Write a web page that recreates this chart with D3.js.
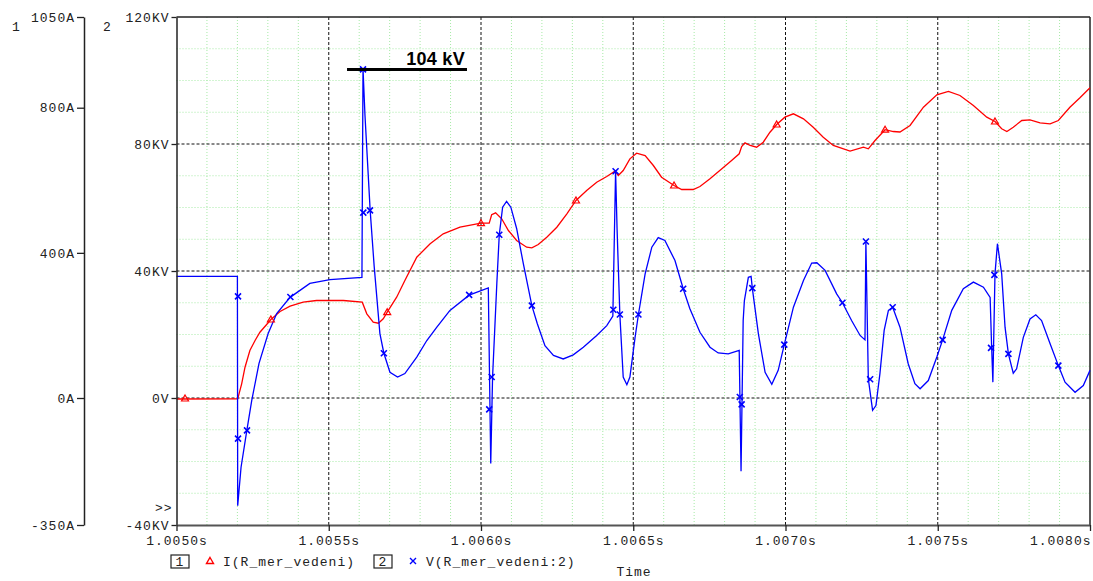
<!DOCTYPE html>
<html>
<head>
<meta charset="utf-8">
<script src="https://cdn.jsdelivr.net/npm/d3@7"></script>
<style>
    body { margin: 0; background: #fff; }
    text { font-family: "Liberation Mono", "DejaVu Sans Mono", monospace; font-size: 13px; letter-spacing: 1px; fill: #222; }
</style>
</head>
<body>
<svg id="chart" width="1093" height="581"></svg>
<script>
// time is in microseconds after 1.0050 s
var timeI = [0,201,214,225,241,258,274,296,310,340,373,416,460,548,610,625,646,663,679,692,723,750,789,833,876,931,1000,1027,1035,1048,1068,1090,1117,1150,1167,1188,1216,1249,1282,1312,1347,1380,1413,1440,1451,1467,1489,1511,1539,1566,1593,1634,1659,1697,1719,1752,1791,1823,1848,1856,1867,1884,1905,1927,1949,1971,1998,2026,2059,2091,2124,2157,2212,2256,2272,2294,2327,2354,2376,2409,2453,2497,2535,2573,2617,2661,2688,2710,2727,2748,2776,2803,2836,2869,2896,2934,2967,3000];
var currentA = [-2.8,-2.2,39.1,84.9,130.9,158.5,181.3,202.6,216.3,238.4,253.0,264.0,268.7,268.7,264.0,232.0,208.9,206.1,218.3,236.5,277.8,323.8,388.0,425.0,452.5,470.7,481.7,481.7,504.9,510.4,493.9,461.6,434.1,415.6,413.9,423.0,443.1,470.7,507.6,544.3,571.8,594.7,610.4,625.0,613.2,627.0,659.2,674.6,668.3,640.7,608.5,585.6,574.6,574.6,582.9,604.1,631.7,654.5,673.0,693.1,703.3,695.9,691.2,705.0,732.5,753.7,773.9,783.2,769.4,746.3,718.7,695.9,680.2,691.2,686.8,709.6,739.4,734.4,733.1,751.0,801.4,835.6,844.7,833.7,806.1,773.9,762.0,741.9,734.4,746.3,764.8,766.7,758.4,755.7,764.8,801.4,827.3,854.9];

var timeV = [0,200,201,212,231,247,271,301,329,373,438,504,609,612.5,619,636,649,668,681,701,726,750,789,822,855,898,961,1024,1032,1038,1052,1060,1071,1084,1098,1117,1139,1167,1185,1210,1238,1270,1303,1336,1380,1413,1433,1442,1447,1456,1467,1479,1489,1506,1517,1539,1561,1582,1604,1637,1664,1686,1719,1752,1779,1812,1848,1854,1861,1865,1878,1887,1891,1911,1933,1955,1976,1996,2026,2059,2086,2103,2130,2168,2187,2217,2245,2261,2264,2272,2286,2297,2310,2324,2338,2352,2376,2403,2425,2442,2469,2497,2516,2546,2584,2617,2650,2672,2677,2681,2688,2696,2710,2721,2732,2748,2759,2781,2803,2822,2841,2869,2896,2918,2951,2978,3000];
var voltageKV = [38.3,38.3,-33.9,-21.8,-10.2,-0.8,10.9,20.3,26.6,31.7,36.1,37.3,38.0,103.8,89.0,59.1,41.7,20.3,14.1,8.1,6.6,7.7,12.9,18.1,22.3,27.6,32.4,34.7,-20.6,6.6,36.1,51.4,60.1,61.9,60.1,53.4,42.3,29.1,23.4,16.5,13.4,12.3,13.6,16.0,19.7,22.8,25.8,71.4,52.8,26.3,6.6,4.2,6.6,19.1,26.3,39.1,47.5,50.5,49.6,43.3,34.4,28.1,20.7,16.0,14.2,13.9,15.0,-23.1,24.4,30.7,38.0,38.3,34.6,20.2,8.1,4.3,8.7,16.8,28.6,37.0,42.5,42.6,40.2,32.8,30.0,24.4,19.7,18.3,49.3,6.0,-3.9,-2.4,7.6,21.3,27.6,28.6,22.3,10.8,4.5,2.9,5.5,12.9,18.3,27.6,34.4,36.5,34.9,31.7,16.0,5.0,39.1,48.6,39.1,22.3,13.9,7.8,9.2,19.1,24.9,26.2,24.4,17.1,10.2,5.0,1.8,3.9,8.7];

// marker symbols (PSpice puts them on the traces)
var markTimeI = [28,310,692,1000,1312,1634,1971,2327,2688];
var markValI = [-1.4,216.3,236.5,481.7,544.3,585.6,753.7,739.4,762.0];
var markTimeV = [202,202,231.5,374,612.5,613.5,635.5,681,961,1027,1035,1060,1167,1434.5,1442,1456,1517,1664,1850,1856,1891,1996,2187,2264,2278,2352,2516,2675,2686,2732,2896];
var markValV = [32.0,-12.8,-10.2,31.8,103.5,58.4,59.1,14.1,32.5,-3.6,6.6,51.4,29.1,27.8,71.4,26.3,26.3,34.4,0.3,-2.0,34.6,16.8,30.0,49.3,5.9,28.6,18.3,15.8,38.8,13.9,10.2];

var ticksTime = [0,500,1000,1500,2000,2500,3000];
var ticksA = [-350,0,400,800,1050];
var ticksAText = ["-350A","0A","400A","800A","1050A"];
var ticksV = [-40,0,40,80,120];
var ticksVText = ["-40KV","0V","40KV","80KV","120KV"];

var peakLabel = "104 kV";
var peakValue = 103.5;
var peakBarFrom = 560, peakBarTo = 954;

var RED = "#ff0000", BLUE = "#0000ff";

var svg = d3.select("#chart");
var pLeft = 176.5, pRight = 1090, pTop = 17, pBottom = 525;

var x = d3.scaleLinear().domain([0, 3000]).range([pLeft, pRight]);
var yI = d3.scaleLinear().domain([-350, 1050]).range([pBottom, pTop]);
var yV = d3.scaleLinear().domain([-40, 120]).range([pBottom, pTop]);

//网格 minor
var grid = svg.append("g").attr("id", "grid");
grid.selectAll("line.mx")
    .data(d3.range(100, 3000, 100).filter(function (d) { return d % 500 !== 0; }))
    .enter().append("line")
    .attr("x1", function (d) { return x(d); }).attr("x2", function (d) { return x(d); })
    .attr("y1", pTop).attr("y2", pBottom)
    .attr("stroke", "#a6eaa6").attr("stroke-dasharray", "1,2");
grid.selectAll("line.my")
    .data(d3.range(-30, 120, 10).filter(function (d) { return d % 40 !== 0; }))
    .enter().append("line")
    .attr("y1", function (d) { return yV(d); }).attr("y2", function (d) { return yV(d); })
    .attr("x1", pLeft).attr("x2", pRight)
    .attr("stroke", "#a6eaa6").attr("stroke-dasharray", "1,2");
// major
grid.selectAll("line.Mx")
    .data([500, 1000, 1500, 2000, 2500])
    .enter().append("line")
    .attr("x1", function (d) { return x(d); }).attr("x2", function (d) { return x(d); })
    .attr("y1", pTop).attr("y2", pBottom)
    .attr("stroke", "#111").attr("stroke-dasharray", "3,2");
grid.selectAll("line.My")
    .data([0, 40, 80])
    .enter().append("line")
    .attr("y1", function (d) { return yV(d); }).attr("y2", function (d) { return yV(d); })
    .attr("x1", pLeft).attr("x2", pRight)
    .attr("stroke", "#111").attr("stroke-dasharray", "3,2");

// frame
svg.append("line").attr("x1", pLeft).attr("x2", pRight).attr("y1", pTop).attr("y2", pTop)
    .attr("stroke", "#222").attr("stroke-width", 1.5);
svg.append("line").attr("x1", pRight).attr("x2", pRight).attr("y1", pTop).attr("y2", pBottom)
    .attr("stroke", "#222").attr("stroke-width", 1.5);

// traces
var lineI = d3.line().x(function (d) { return x(d[0]); }).y(function (d) { return yI(d[1]); });
var lineV = d3.line().x(function (d) { return x(d[0]); }).y(function (d) { return yV(d[1]); });

svg.append("path").datum(d3.zip(timeI, currentA))
    .attr("d", lineI).attr("fill", "none").attr("stroke", RED).attr("stroke-width", 1.3);
svg.append("path").datum(d3.zip(timeV, voltageKV))
    .attr("d", lineV).attr("fill", "none").attr("stroke", BLUE).attr("stroke-width", 1.3);

var triPath = "M0,-3.5L3.5,2.5L-3.5,2.5Z";
var crossPath = "M-3,-3L3,3M-3,3L3,-3";

svg.append("g").selectAll("path")
    .data(d3.zip(markTimeI, markValI)).enter().append("path")
    .attr("transform", function (d) { return "translate(" + x(d[0]) + "," + yI(d[1]) + ")"; })
    .attr("d", triPath).attr("fill", "none").attr("stroke", RED).attr("stroke-width", 1.2);
svg.append("g").selectAll("path")
    .data(d3.zip(markTimeV, markValV)).enter().append("path")
    .attr("transform", function (d) { return "translate(" + x(d[0]) + "," + yV(d[1]) + ")"; })
    .attr("d", crossPath).attr("fill", "none").attr("stroke", BLUE).attr("stroke-width", 1.6);

// axes
var axI = svg.append("g").attr("transform", "translate(84,0)")
    .call(d3.axisLeft(yI).tickValues(ticksA).tickSize(7).tickSizeOuter(0).tickPadding(2)
        .tickFormat(function (d, i) { return ticksAText[i]; }));
var axV = svg.append("g").attr("transform", "translate(" + pLeft + ",0)")
    .call(d3.axisLeft(yV).tickValues(ticksV).tickSize(5).tickSizeOuter(0).tickPadding(2)
        .tickFormat(function (d, i) { return ticksVText[i]; }));
var axT = svg.append("g").attr("transform", "translate(0," + pBottom + ")")
    .call(d3.axisBottom(x).tickValues(ticksTime).tickSize(6).tickSizeOuter(0).tickPadding(5)
        .tickFormat(function (d) { return (1.005 + d / 1e6).toFixed(4) + "s"; }));

[axI, axV].forEach(function (a) {
    a.select(".domain").attr("stroke", "#222").attr("stroke-width", 1.5);
    a.selectAll(".tick line").attr("stroke", "#222").attr("stroke-width", 1.3);
});
axT.select(".domain").attr("stroke", "#555").attr("stroke-width", 2);
axT.selectAll(".tick line").attr("stroke", "#222").attr("stroke-width", 1.3);
// last time label sits inside the right edge
axT.selectAll(".tick text").filter(function (d) { return d === 3000; }).attr("text-anchor", "end").attr("dx", 1);
svg.selectAll(".tick text").attr("font-family", null).attr("font-size", null).attr("fill", "#222");

svg.append("text").attr("x", 12).attr("y", 31).text("1");
svg.append("text").attr("x", 103).attr("y", 31).text("2");
svg.append("text").attr("x", 155).attr("y", 512).text(">>");

// peak annotation
svg.append("line")
    .attr("x1", x(peakBarFrom)).attr("x2", x(peakBarTo))
    .attr("y1", yV(peakValue)).attr("y2", yV(peakValue))
    .attr("stroke", "#000").attr("stroke-width", 3);
svg.append("text")
    .attr("x", x(peakBarTo) - 2).attr("y", yV(peakValue) - 4)
    .attr("text-anchor", "end")
    .style("font-family", "'Liberation Sans', Arial, sans-serif")
    .style("font-size", "18px").style("font-weight", "bold").style("letter-spacing", "0.3px")
    .style("fill", "#000")
    .text(peakLabel);

// legend
var legend = [
    {num: "1", sym: triPath, color: RED, label: "I(R_mer_vedeni)", x0: 171},
    {num: "2", sym: crossPath, color: BLUE, label: "V(R_mer_vedeni:2)", x0: 374}
];
var lg = svg.append("g").selectAll("g").data(legend).enter().append("g")
    .attr("transform", function (d) { return "translate(" + d.x0 + ",561)"; });
lg.append("rect").attr("x", 0).attr("y", -6).attr("width", 18).attr("height", 13)
    .attr("fill", "none").attr("stroke", "#222").attr("stroke-width", 1.2);
lg.append("text").attr("x", 9).attr("y", 5).attr("text-anchor", "middle").text(function (d) { return d.num; });
lg.append("path").attr("d", function (d) { return d.sym; })
    .attr("transform", "translate(39,0)")
    .attr("fill", "none").attr("stroke", function (d) { return d.color; }).attr("stroke-width", 1.4);
lg.append("text").attr("x", 52).attr("y", 5).text(function (d) { return d.label; });

svg.append("text").attr("x", 634).attr("y", 576).attr("text-anchor", "middle").text("Time");
</script>
</body>
</html>
